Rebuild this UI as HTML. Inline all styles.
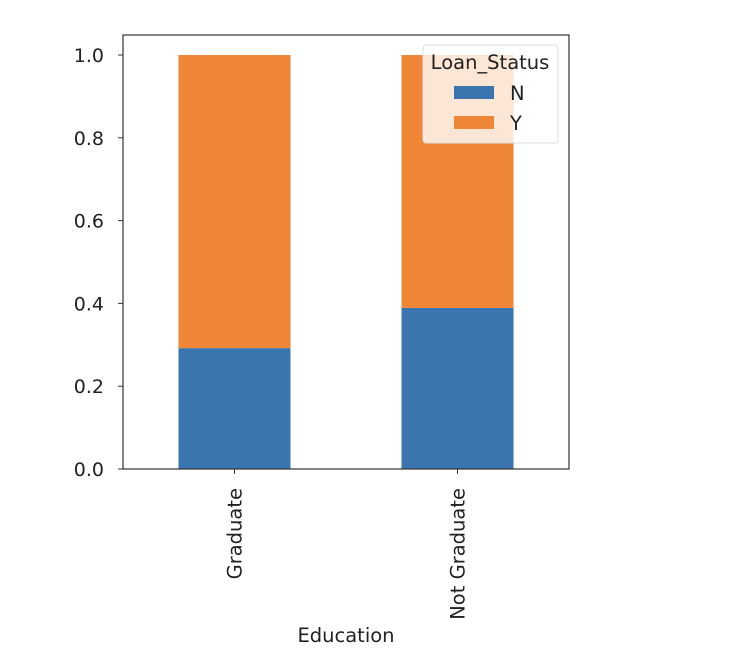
<!DOCTYPE html>
<html><head><meta charset="utf-8"><style>
body{margin:0;background:#fff;}
svg{display:block;font-family:"DejaVu Sans","Liberation Sans",sans-serif;}
</style></head><body>
<svg id="chart" width="732" height="664">
<rect x="123" y="35" width="446" height="434" fill="#fff"/>
<g id="bars"></g>
<g id="axes"></g>
<rect x="123" y="35" width="446" height="434" fill="none" stroke="#333" stroke-width="1.2"/>
<g>
<rect x="423" y="45" width="135" height="98" rx="3" fill="#fff" fill-opacity="0.8" stroke="#ddd"/>
<text x="490" y="69" font-size="19.5" text-anchor="middle" fill="#222">Loan_Status</text>
<rect x="454" y="86" width="40" height="13" fill="#3a75af"/>
<text x="510" y="100" font-size="19.5" fill="#222">N</text>
<rect x="454" y="116" width="40" height="13" fill="#ef8636"/>
<text x="510" y="130" font-size="19.5" fill="#222">Y</text>
</g>
<text x="346" y="642" font-size="19.5" text-anchor="middle" fill="#222">Education</text>
</svg>
<script>
const categories = ["Graduate", "Not Graduate"];
const seriesN = [0.292, 0.389];
const seriesY = [0.708, 0.611];
const yTicks = [0, 0.2, 0.4, 0.6, 0.8, 1.0];
const yTickLabels = ["0.0", "0.2", "0.4", "0.6", "0.8", "1.0"];

const ns = "http://www.w3.org/2000/svg";
const x0 = 123, x1 = 569, yBase = 469, yTop1 = 55;
function yScale(v){ return yBase - v * (yBase - yTop1); }
function xCenter(i){ return x0 + (x1 - x0) * (i + 0.5) / categories.length; }
const barW = 112;
function mk(tag, attrs){ const e = document.createElementNS(ns, tag); for (const k in attrs) e.setAttribute(k, attrs[k]); return e; }
const bars = document.getElementById('bars'), axes = document.getElementById('axes');
categories.forEach((c, i) => {
  const cx = xCenter(i);
  const n = mk('rect', {x: cx - barW/2, y: yScale(seriesN[i]), width: barW, height: yBase - yScale(seriesN[i]), fill: '#3a75af'});
  
  
  bars.appendChild(n);
  const top = seriesN[i] + seriesY[i];
  const y = mk('rect', {x: cx - barW/2, y: yScale(top), width: barW, height: yScale(seriesN[i]) - yScale(top), fill: '#ef8636'});
  
  
  bars.appendChild(y);
  const t = mk('line', {x1: cx, x2: cx, y1: yBase, y2: yBase + 5, stroke: '#333'});
  
  
  axes.appendChild(t);
  const l = mk('text', {x: 0, y: 0, 'font-size': 19.5, 'text-anchor': 'end', fill: '#222', transform: 'translate(' + (cx + 7) + ',' + (yBase + 19) + ') rotate(-90)'});
  l.textContent = c;
  
  
  axes.appendChild(l);
});
yTicks.forEach((v, i) => {
  const yy = yScale(v);
  const t = mk('line', {x1: x0 - 5, x2: x0, y1: yy, y2: yy, stroke: '#333'});
  
  
  axes.appendChild(t);
  const l = mk('text', {x: 104, y: yy + 7, 'font-size': 19, 'text-anchor': 'end', fill: '#222'});
  l.textContent = yTickLabels[i];
  
  
  axes.appendChild(l);
});
</script>
</body></html>
